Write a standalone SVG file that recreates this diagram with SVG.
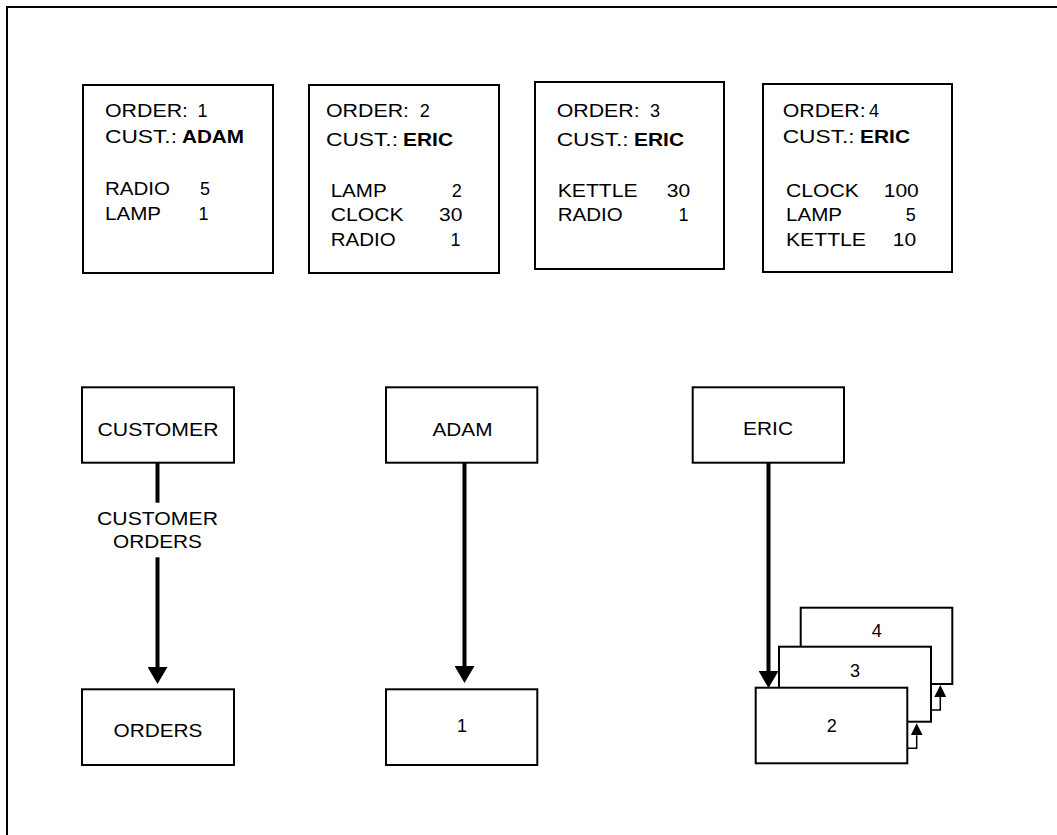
<svg xmlns="http://www.w3.org/2000/svg" width="1057" height="835" viewBox="0 0 1057 835">
<style>
  .box { fill: #fff; stroke: #000; stroke-width: 2; }
  .t { font-family: "Liberation Sans", Arial, sans-serif; font-size: 18px; fill: #000; }
  .b { font-weight: bold; }
  .m { text-anchor: middle; }
  .conn { stroke: #000; stroke-width: 4; fill: none; }
  .thin { stroke: #000; stroke-width: 1.5; fill: none; }
</style>
<defs>
  <marker id="ah" viewBox="0 0 17 20" refX="0" refY="10" markerWidth="17" markerHeight="20" markerUnits="userSpaceOnUse" orient="auto">
    <path d="M0,0 L17,10 L0,20 z" fill="#000"/>
  </marker>
  <marker id="ahs" viewBox="0 0 12 12" refX="0" refY="6" markerWidth="12" markerHeight="12" markerUnits="userSpaceOnUse" orient="auto">
    <path d="M0,0 L12,6 L0,12 z" fill="#000"/>
  </marker>
</defs>
<rect width="1057" height="835" fill="#fff"/>
<path d="M7,835 V7 H1057" fill="none" stroke="#000" stroke-width="2"/>

<g id="order1">
  <rect class="box" x="83" y="85" width="190" height="188"/>
  <text class="t" x="105" y="117" textLength="83" lengthAdjust="spacingAndGlyphs">ORDER:</text>
  <text class="t" x="197.5" y="117">1</text>
  <text class="t" x="105" y="143" textLength="72" lengthAdjust="spacingAndGlyphs">CUST.:</text>
  <text class="t b" x="182" y="143" textLength="62" lengthAdjust="spacingAndGlyphs">ADAM</text>
  <text class="t" x="105" y="195" textLength="65" lengthAdjust="spacingAndGlyphs">RADIO</text>
  <text class="t" x="200" y="195">5</text>
  <text class="t" x="105" y="220" textLength="56" lengthAdjust="spacingAndGlyphs">LAMP</text>
  <text class="t" x="198.5" y="220">1</text>
</g>

<g id="order2">
  <rect class="box" x="309" y="85" width="190" height="188"/>
  <text class="t" x="326" y="117" textLength="83" lengthAdjust="spacingAndGlyphs">ORDER:</text>
  <text class="t" x="419.7" y="117">2</text>
  <text class="t" x="326" y="145.7" textLength="72" lengthAdjust="spacingAndGlyphs">CUST.:</text>
  <text class="t b" x="403" y="145.7" textLength="50" lengthAdjust="spacingAndGlyphs">ERIC</text>
  <text class="t" x="330.7" y="196.7" textLength="56" lengthAdjust="spacingAndGlyphs">LAMP</text>
  <text class="t" x="451.7" y="196.7">2</text>
  <text class="t" x="330.7" y="221" textLength="73" lengthAdjust="spacingAndGlyphs">CLOCK</text>
  <text class="t" x="439" y="221" textLength="23.4" lengthAdjust="spacingAndGlyphs">30</text>
  <text class="t" x="330.7" y="246" textLength="65" lengthAdjust="spacingAndGlyphs">RADIO</text>
  <text class="t" x="450.5" y="246">1</text>
</g>

<g id="order3">
  <rect class="box" x="535" y="82" width="189" height="187"/>
  <text class="t" x="556.7" y="117.3" textLength="83" lengthAdjust="spacingAndGlyphs">ORDER:</text>
  <text class="t" x="650" y="117.3">3</text>
  <text class="t" x="556.7" y="145.7" textLength="72" lengthAdjust="spacingAndGlyphs">CUST.:</text>
  <text class="t b" x="634" y="145.7" textLength="50" lengthAdjust="spacingAndGlyphs">ERIC</text>
  <text class="t" x="557.7" y="196.7" textLength="80" lengthAdjust="spacingAndGlyphs">KETTLE</text>
  <text class="t" x="666.7" y="196.7" textLength="23.4" lengthAdjust="spacingAndGlyphs">30</text>
  <text class="t" x="557.7" y="220.7" textLength="65" lengthAdjust="spacingAndGlyphs">RADIO</text>
  <text class="t" x="678.5" y="220.7">1</text>
</g>

<g id="order4">
  <rect class="box" x="763" y="84" width="189" height="188"/>
  <text class="t" x="782.7" y="116.7" textLength="83" lengthAdjust="spacingAndGlyphs">ORDER:</text>
  <text class="t" x="869" y="116.7">4</text>
  <text class="t" x="782.7" y="143.3" textLength="72" lengthAdjust="spacingAndGlyphs">CUST.:</text>
  <text class="t b" x="860" y="143.3" textLength="50" lengthAdjust="spacingAndGlyphs">ERIC</text>
  <text class="t" x="786" y="196.7" textLength="73" lengthAdjust="spacingAndGlyphs">CLOCK</text>
  <text class="t" x="883.7" y="196.7" textLength="35.1" lengthAdjust="spacingAndGlyphs">100</text>
  <text class="t" x="786" y="220.7" textLength="56" lengthAdjust="spacingAndGlyphs">LAMP</text>
  <text class="t" x="905.7" y="220.7">5</text>
  <text class="t" x="786" y="245.7" textLength="80" lengthAdjust="spacingAndGlyphs">KETTLE</text>
  <text class="t" x="892.7" y="245.7" textLength="23.4" lengthAdjust="spacingAndGlyphs">10</text>
</g>

<g id="customer">
  <rect class="box" x="82" y="387.3" width="152" height="75.4"/>
  <text class="t m" x="158" y="436" textLength="121" lengthAdjust="spacingAndGlyphs">CUSTOMER</text>
</g>
<g id="orders">
  <rect class="box" x="82" y="689.3" width="152" height="75.7"/>
  <text class="t m" x="158" y="737" textLength="89" lengthAdjust="spacingAndGlyphs">ORDERS</text>
</g>
<g id="adam">
  <rect class="box" x="386" y="387.3" width="151.3" height="75.4"/>
  <text class="t m" x="462.5" y="436" textLength="60" lengthAdjust="spacingAndGlyphs">ADAM</text>
</g>
<g id="one">
  <rect class="box" x="386" y="689.3" width="151.3" height="75.7"/>
  <text class="t m" x="462" y="732">1</text>
</g>
<g id="eric">
  <rect class="box" x="692.7" y="387.3" width="151.3" height="75.4"/>
  <text class="t m" x="768" y="435" textLength="50" lengthAdjust="spacingAndGlyphs">ERIC</text>
</g>
<g id="stack4">
  <rect class="box" x="800.7" y="607.7" width="151.6" height="76.3"/>
  <text class="t m" x="876.7" y="636.7">4</text>
</g>
<g id="stack3">
  <rect class="box" x="779" y="646.7" width="152" height="75"/>
  <text class="t m" x="855" y="677.3">3</text>
</g>
<g id="stack2">
  <rect class="box" x="755.7" y="687.7" width="151.6" height="75.6"/>
  <text class="t m" x="831.7" y="731.7">2</text>
</g>

<g id="connectors">
  <line class="conn" x1="157.5" y1="462.7" x2="157.5" y2="502.7"/>
  <text class="t m" x="157.5" y="525" textLength="121" lengthAdjust="spacingAndGlyphs">CUSTOMER</text>
  <text class="t m" x="157.5" y="548.3" textLength="89" lengthAdjust="spacingAndGlyphs">ORDERS</text>
  <line class="conn" x1="157.5" y1="557.3" x2="157.5" y2="667" marker-end="url(#ah)"/>
  <line class="conn" x1="464.5" y1="462.7" x2="464.5" y2="666" marker-end="url(#ah)"/>
  <line class="conn" x1="768.5" y1="462.7" x2="768.5" y2="671" marker-end="url(#ah)"/>
  <path class="thin" d="M907.3,748.3 H916.7 V735.3" marker-end="url(#ahs)"/>
  <path class="thin" d="M931,710 H940.3 V697" marker-end="url(#ahs)"/>
</g>
</svg>
